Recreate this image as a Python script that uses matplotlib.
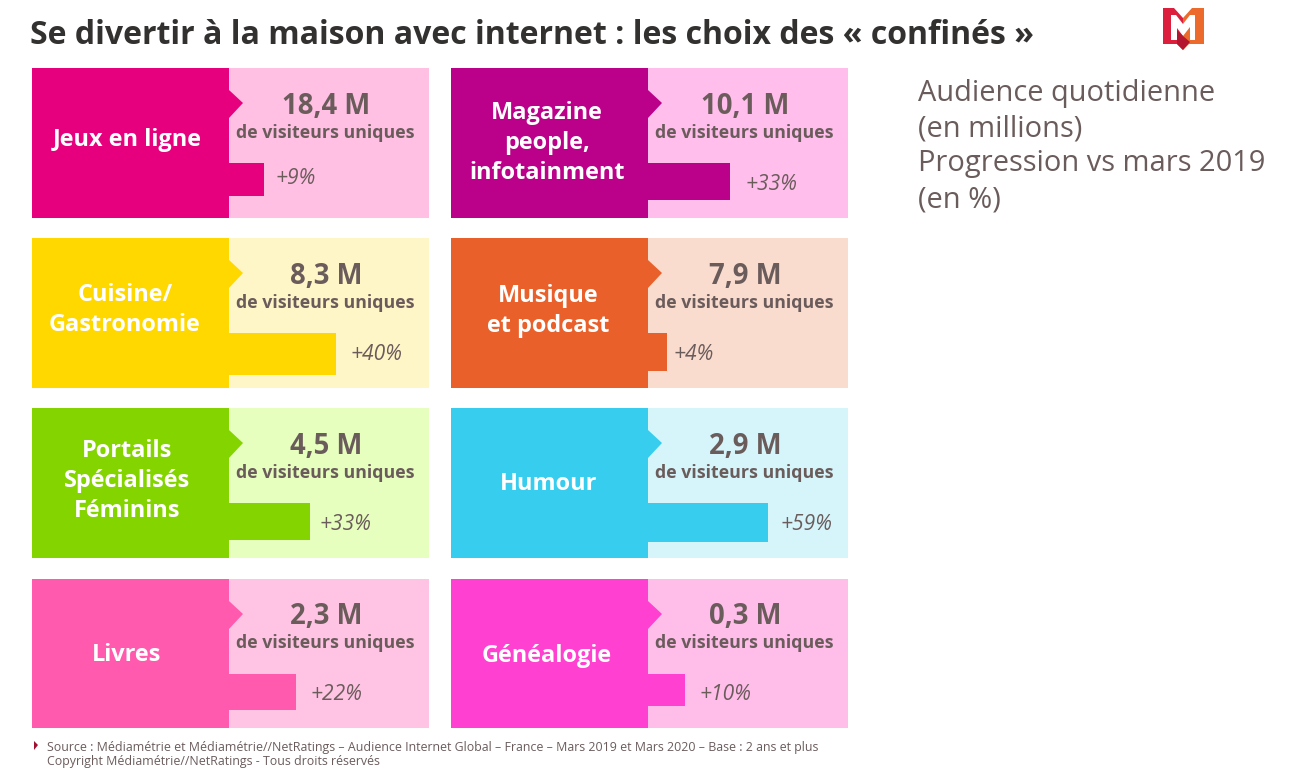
import matplotlib
matplotlib.use("Agg")
import matplotlib.pyplot as plt
from matplotlib.patches import Polygon, Rectangle

# values
categories = ["Jeux en ligne", "Magazine\npeople,\ninfotainment",
              "Cuisine/\nGastronomie", "Musique\net podcast",
              "Portails\nSpécialisés\nFéminins", "Humour",
              "Livres", "Généalogie"]
audience = ["18,4 M", "10,1 M", "8,3 M", "7,9 M", "4,5 M", "2,9 M", "2,3 M", "0,3 M"]
progress = ["+9%", "+33%", "+40%", "+4%", "+33%", "+59%", "+22%", "+10%"]
bar_lengths = [35, 82, 107, 19, 81, 120, 67, 37]
bar_heights = [33, 37, 42, 38, 37, 39, 36, 32]
dark_colors = ["#E6007E", "#BB0089", "#FFD800", "#E9602B",
               "#84D500", "#37CDEE", "#FF5AAE", "#FF40D0"]
light_colors = ["#FFC0E3", "#FFBEEC", "#FFF6C8", "#FADCCF",
                "#E6FFBE", "#D5F5FB", "#FFC4E4", "#FFBEEA"]

# layout, in pixels of the 1297x775 picture
col_x = [32, 451]
row_y = [68, 238, 408, 579]
row_h = [150, 150, 150, 149]
text_shift = [0, 0, 0, -1]
dark_w = 197
tile_w = 397
label_mid = [72, 75, 72, 73, 73, 76, 76, 77]
label_x = [95, 96, 93, 97, 95, 98, 95, 96]
pct_gap = [12, 16, 15, 7, 10, 13, 15, 15]
pct_mid = [112, 117, 117, 117, 117, 117, 116, 116]

TEXT = "#6B5C5C"
plt.rcParams["font.family"] = ["Open Sans", "DejaVu Sans"]


def px(size):
    return size * 0.72


def draw_tile(ax, i):
    x0 = col_x[i % 2]
    y0 = row_y[i // 2]
    split = x0 + dark_w
    shift = text_shift[i // 2]
    ax.add_patch(Rectangle((x0, y0), tile_w, row_h[i // 2], color=light_colors[i], lw=0))
    ax.add_patch(Rectangle((x0, y0), dark_w, row_h[i // 2], color=dark_colors[i], lw=0))
    # small arrow pointing at the audience figure
    ax.add_patch(Polygon([(split, y0 + 22), (split + 14, y0 + 35), (split, y0 + 50)],
                         color=dark_colors[i], lw=0))
    ax.barh(y0 + 95 + bar_heights[i] / 2, bar_lengths[i], height=bar_heights[i],
            left=split, color=dark_colors[i], lw=0)

    # one text per line, the line pitch is a fixed 30 px
    lines = categories[i].split("\n")
    for k, line in enumerate(lines):
        y = y0 + label_mid[i] + 30 * (k - (len(lines) - 1) / 2)
        ax.text(x0 + label_x[i], y, line, color="white", fontsize=px(23.5),
                fontweight="bold", ha="center", va="center")
    ax.text(split + 97, y0 + 39 + shift, audience[i], color=TEXT, fontsize=px(27.5),
            fontweight="bold", ha="center", va="center")
    ax.text(split + 96, y0 + 65 + shift, "de visiteurs uniques", color=TEXT, fontsize=px(17.8),
            fontweight="bold", ha="center", va="center")
    ax.text(split + bar_lengths[i] + pct_gap[i], y0 + pct_mid[i] - 1, progress[i],
            color=TEXT, fontsize=px(21), style="italic", ha="left", va="center")


def draw_logo(ax):
    ax.add_patch(Polygon([(1163, 8), (1174, 8), (1183, 18), (1183, 50), (1177, 44), (1163, 44)],
                         color="#DC1F3C", lw=0))
    ax.add_patch(Polygon([(1192, 8), (1204, 8), (1204, 44), (1189, 44), (1183, 50), (1183, 18)],
                         color="#EC6A2C", lw=0))
    ax.add_patch(Polygon([(1171, 40), (1171, 15), (1176, 15), (1183, 24), (1190, 15), (1195, 15),
                          (1195, 40), (1190, 40), (1190, 27), (1183, 36), (1177, 28), (1177, 40)],
                         color="white", lw=0))
    ax.add_patch(Polygon([(1177, 30), (1183, 36), (1190, 42), (1183, 50), (1177, 44)],
                         color="#B4152F", lw=0))


def main():
    fig = plt.figure(figsize=(12.97, 7.75), dpi=100)
    ax = fig.add_axes([0, 0, 1, 1])
    ax.set_xlim(0, 1297)
    ax.set_ylim(775, 0)
    ax.axis("off")

    ax.text(30, 35, "Se divertir à la maison avec internet : les choix des « confinés »",
            color="#333030", fontsize=px(32), fontweight="bold", ha="left", va="center")

    for i in range(len(categories)):
        draw_tile(ax, i)

    draw_logo(ax)

    side_text = ["Audience quotidienne", "(en millions)", "Progression vs mars 2019", "(en %)"]
    for y, line in zip([94, 129, 164, 200], side_text):
        ax.text(918, y, line, color=TEXT, fontsize=px(29), ha="left", va="center")

    ax.add_patch(Polygon([(34, 741), (38, 745), (34, 750)], color="#A01030", lw=0))
    ax.text(47, 748, "Source : Médiamétrie et Médiamétrie//NetRatings – Audience Internet Global"
            " – France – Mars 2019 et Mars 2020 – Base : 2 ans et plus",
            color=TEXT, fontsize=px(12.45), ha="left", va="center")
    ax.text(47, 761, "Copyright Médiamétrie//NetRatings - Tous droits réservés",
            color=TEXT, fontsize=px(12.45), ha="left", va="center")

    fig.savefig("out.png", dpi=100)


if __name__ == '__main__':
    main()
